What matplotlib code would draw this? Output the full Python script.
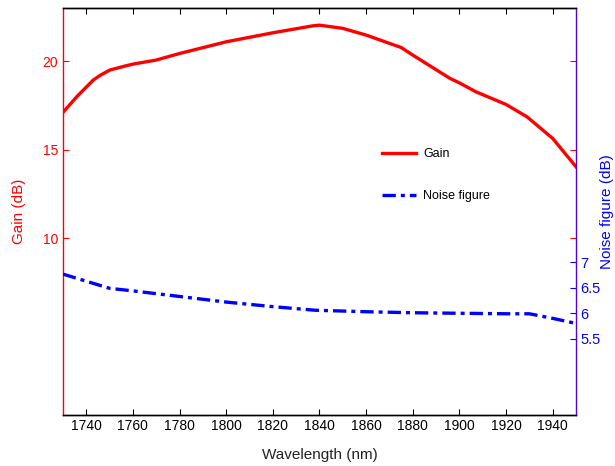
import numpy as np
import matplotlib.pyplot as plt

# wavelength (nm)
wl_gain = [1730, 1736, 1743, 1746, 1750, 1756, 1760, 1770, 1780, 1800, 1820, 1837, 1840,
           1850, 1860, 1875, 1880, 1896, 1900, 1907, 1920, 1929, 1940, 1950]
gain = [17.1, 18.0, 18.93, 19.2, 19.49, 19.7, 19.83, 20.06, 20.43, 21.09, 21.6, 21.99, 22.03,
        21.85, 21.47, 20.77, 20.34, 19.02, 18.77, 18.27, 17.55, 16.85, 15.63, 14.03]

wl_nf = [1730, 1750, 1760, 1780, 1800, 1820, 1838, 1860, 1880, 1900, 1920, 1930, 1940, 1950]
nf = [6.77, 6.49, 6.44, 6.33, 6.22, 6.13, 6.06, 6.03, 6.01, 6.0, 5.99, 5.99, 5.9, 5.8]

xticks = np.arange(1740, 1941, 20)
gain_ticks = [10, 15, 20]
nf_ticks = [5.5, 6, 6.5, 7]

plt.rcParams['font.family'] = ['Liberation Sans', 'DejaVu Sans']

fig = plt.figure(figsize=(6.15, 4.66), dpi=100)
ax = fig.add_axes([0.1024, 0.1094, 0.8342, 0.8734])
ax2 = ax.twinx()

l1, = ax.plot(wl_gain, gain, color='#ff0000', lw=2.4, label='Gain')
l2, = ax2.plot(wl_nf, nf, color='#0000ff', lw=2.4, ls=(0, (4, 1.5, 1.2, 1.5)), label='Noise figure')

ax.set_xlim(1730, 1950)
ax.set_ylim(0, 23)
ax2.set_ylim(4, 12)
ax.set_xticks(xticks)
ax.set_yticks(gain_ticks)
ax2.set_yticks(nf_ticks)
ax2.set_yticklabels(['5.5', '6', '6.5', '7'])

ax.tick_params(axis='x', direction='in', top=True, length=4, labelsize=10, pad=3)
ax.tick_params(axis='y', direction='in', right=True, length=4, colors='#ff0000', labelsize=10)
ax2.tick_params(axis='y', direction='in', length=4, colors='#0000ff', labelsize=10.5, pad=3)

ax.spines['left'].set_color('#ff0000')
ax2.spines['left'].set_visible(False)
ax2.spines['right'].set_color('#5500dd')
ax.spines['right'].set_visible(False)
for a in (ax, ax2):
    for s in a.spines.values():
        s.set_linewidth(1.0)

ax.set_xlabel('Wavelength (nm)', fontsize=11, color='#222222', labelpad=11)
ax.set_ylabel('Gain (dB)', fontsize=11, color='#ff0000', labelpad=12)
ax2.set_ylabel('Noise figure (dB)', fontsize=11, color='#0000ff', labelpad=0)

ax2.legend([l1, l2], ['Gain', 'Noise figure'], loc='upper left',
           bbox_to_anchor=(0.622, 0.655), frameon=False, fontsize=9,
           borderpad=0, borderaxespad=0,
           handlelength=2.7, labelspacing=2.4, handletextpad=0.6)

fig.savefig('out.png', dpi=100, facecolor='w')
